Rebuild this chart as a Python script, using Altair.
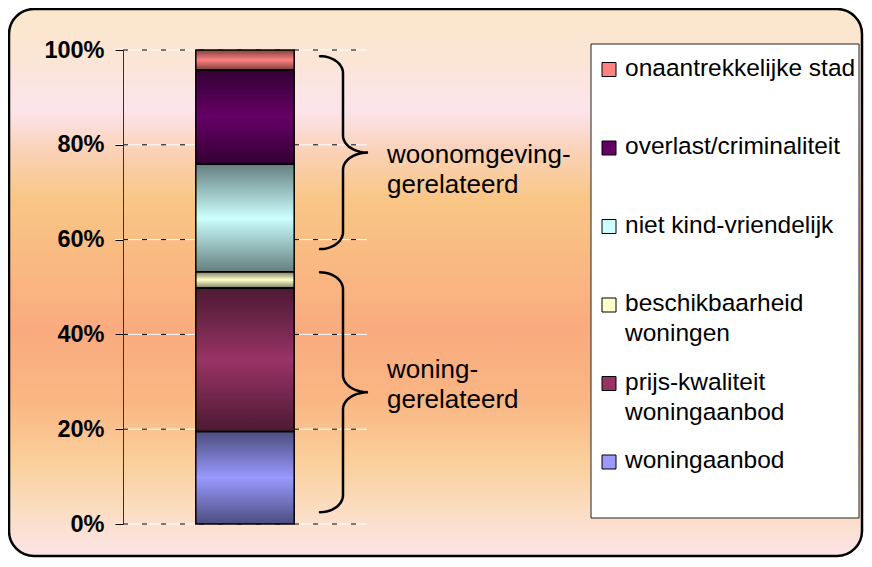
import math
import altair as alt
import pandas as pd

# ---------------- data ----------------
categories = ["woningaanbod", "prijs-kwaliteit\nwoningaanbod", "beschikbaarheid\nwoningen",
              "niet kind-vriendelijk", "overlast/criminaliteit", "onaantrekkelijke stad"]
shares = [19.5, 30.3, 3.4, 22.7, 19.9, 4.2]
colors = ["#9999FF", "#993366", "#FFFFCC", "#CCFFFF", "#660066", "#FF8080"]
tick_values = [0, 20, 40, 60, 80, 100]
group_labels = ["woning-\ngerelateerd", "woonomgeving-\ngerelateerd"]
brace_low = [2.5, 58.0]
brace_high = [53.1, 98.7]

# ---------------- layout constants ----------------
W, H = 244, 474
FONT = "Liberation Sans"

bars = pd.DataFrame({"category": categories, "share": shares, "order": list(range(len(categories)))})
ticks = pd.DataFrame({"t": tick_values})
legend_order = list(reversed(categories))

yscale = alt.Scale(domain=[0, 100], nice=False, zero=True)
cscale = alt.Scale(domain=categories, range=colors)

yaxis = alt.Axis(values=tick_values, labelExpr="datum.value + '%'", labelFont=FONT,
                 labelFontWeight="bold", labelFontSize=23.5, labelColor="black",
                 labelPadding=11, tickSize=8, tickColor="black", tickWidth=1,
                 domainColor="#333333", domainWidth=1, grid=False, zindex=1)

bg_stops = [(0.0, "#FBE7CC"), (0.093, "#FBE5D6"), (0.185, "#FCE4EC"), (0.258, "#FAD2B8"),
            (0.35, "#F9C685"), (0.587, "#F9AB7F"), (0.715, "#F9B683"), (0.825, "#FACF9A"),
            (0.916, "#FBDDC2"), (1.0, "#FCE4E8")]
bg_grad = alt.LinearGradient(gradient="linear", x1=0, x2=0, y1=0, y2=1,
                             stops=[alt.GradientStop(offset=o, color=c) for o, c in bg_stops])
shade_grad = alt.LinearGradient(gradient="linear", x1=0, x2=0, y1=0, y2=1,
                                stops=[alt.GradientStop(offset=0, color="rgba(0,0,0,0.5)"),
                                       alt.GradientStop(offset=0.5, color="rgba(0,0,0,0)"),
                                       alt.GradientStop(offset=1, color="rgba(0,0,0,0.5)")])

# ---------------- main layer ----------------
background = alt.Chart(pd.DataFrame({"k": [0]})).mark_rect(
    fill=bg_grad, stroke="black", strokeWidth=2.5, cornerRadius=25
).encode(x=alt.value(-114), x2=alt.value(739), y=alt.value(-41), y2=alt.value(506))

grid_white = alt.Chart(ticks).mark_rule(color="white", strokeWidth=1).encode(
    y=alt.Y("t:Q", scale=yscale, axis=yaxis, title=None),
    x=alt.value(-8), x2=alt.value(W))
grid_dash = alt.Chart(ticks).mark_rule(color="black", strokeWidth=1, strokeDash=[5, 14]).encode(
    y=alt.Y("t:Q", scale=yscale, axis=yaxis, title=None),
    x=alt.value(0), x2=alt.value(W))

stacked = alt.Chart(bars).transform_window(
    end="sum(share)", sort=[alt.SortField("order")], frame=[None, 0]
).transform_calculate(start="datum.end - datum.share", bar="'v'")

xband = alt.X("bar:N", scale=alt.Scale(paddingInner=0, paddingOuter=0.74), axis=None, title=None)

bar_fill = stacked.mark_bar(strokeWidth=0).encode(
    x=xband,
    y=alt.Y("start:Q", scale=yscale, axis=yaxis, title=None),
    y2="end:Q",
    color=alt.Color("category:N", scale=cscale, legend=None))
bar_shade = stacked.mark_bar(fill=shade_grad, stroke="black", strokeWidth=1.5).encode(
    x=xband,
    y=alt.Y("start:Q", scale=yscale, axis=yaxis, title=None),
    y2="end:Q")

main = alt.layer(background, grid_white, grid_dash, bar_fill, bar_shade)

# ---------------- braces ----------------
XL, XS, XT, R, N = 197, 220, 245, 3.6, 14
rows = []
for g, (lo, hi) in enumerate(zip(brace_low, brace_high)):
    mid = (lo + hi) / 2
    seq = 0
    segs = [
        lambda t: (XL + (XS - XL) * math.sin(t), hi - R + R * math.cos(t)),
        lambda t: (XT - (XT - XS) * math.cos(t), mid + R - R * math.sin(t)),
        lambda t: (XT - (XT - XS) * math.sin(t), mid - R + R * math.cos(t)),
        lambda t: (XL + (XS - XL) * math.cos(t), lo + R - R * math.sin(t)),
    ]
    for f in segs:
        for k in range(N + 1):
            px, pct = f(k / N * math.pi / 2)
            rows.append({"group": g, "seq": seq, "px": px, "pct": pct})
            seq += 1
brace_df = pd.DataFrame(rows)
brace_lines = alt.Chart(brace_df).mark_line(color="black", strokeWidth=2.5, strokeCap="round").encode(
    x=alt.X("px:Q", scale=None, axis=None),
    y=alt.Y("pct:Q", scale=yscale, axis=None, title=None),
    detail="group:N", order="seq:Q")

groups_df = pd.DataFrame({"label": group_labels, "g": [0, 1],
                          "tip": [(a + b) / 2 for a, b in zip(brace_low, brace_high)]})
brace_texts = []
for g, dy in [(0, -14.7), (1, 10)]:
    brace_texts.append(
        alt.Chart(groups_df).transform_filter(alt.datum.g == g).mark_text(
            align="left", baseline="alphabetic", dy=dy, fontSize=26, font=FONT,
            lineBreak="\n", lineHeight=30.7, color="black"
        ).encode(x=alt.value(264), y=alt.Y("tip:Q", scale=yscale, axis=None, title=None),
                 text="label:N"))
annot = alt.layer(brace_lines, *brace_texts)

# ---------------- legend ----------------
legend_box = alt.Chart(pd.DataFrame({"k": [0]})).mark_rect(
    fill="white", stroke="#222222", strokeWidth=1
).encode(x=alt.value(468), x2=alt.value(736), y=alt.value(-6), y2=alt.value(468))

ly = alt.Y("category:N", scale=alt.Scale(type="point", domain=legend_order, range=[19.5, 412], padding=0),
           axis=None, title=None)
legend_sq = alt.Chart(bars).mark_square(size=196, stroke="black", strokeWidth=1, opacity=1, filled=True).encode(
    x=alt.value(486), y=ly, color=alt.Color("category:N", scale=cscale, legend=None))
legend_tx = alt.Chart(bars).mark_text(
    align="left", baseline="alphabetic", dy=6, fontSize=24.5, font=FONT,
    lineBreak="\n", lineHeight=30, color="black"
).encode(x=alt.value(502), y=ly, text="category:N")
legend = alt.layer(legend_box, legend_sq, legend_tx)

chart = alt.layer(main, annot, legend).resolve_scale(
    y="independent", x="independent"
).properties(
    width=W, height=H,
    padding={"left": 115, "top": 42, "right": 497, "bottom": 35},
    autosize=alt.AutoSizeParams(type="none"),
    background="white",
).configure_view(stroke=None)

chart.save("out.html", embed_options={"renderer": "svg", "actions": False})
